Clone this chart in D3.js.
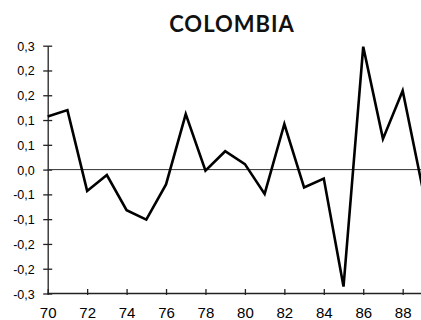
<!DOCTYPE html>
<html>
<head>
<meta charset="utf-8">
<script src="https://cdn.jsdelivr.net/npm/d3@7"></script>
<style>
  html, body { margin: 0; padding: 0; background: #fff; }
  svg { display: block; }
</style>
</head>
<body>
<svg id="chart" width="421" height="320"></svg>
<script>
// Annual series for Colombia, 1970–1989
const years = [70, 71, 72, 73, 74, 75, 76, 77, 78, 79, 80, 81, 82, 83, 84, 85, 86, 87, 88, 89];
const values = [0.107, 0.120, -0.043, -0.011, -0.082, -0.101, -0.030, 0.112, -0.002, 0.037,
                0.011, -0.049, 0.092, -0.036, -0.018, -0.236, 0.248, 0.062, 0.159, -0.036];
const yTicks = [0.25, 0.2, 0.15, 0.1, 0.05, 0, -0.05, -0.1, -0.15, -0.2, -0.25];
const xTicks = [70, 72, 74, 76, 78, 80, 82, 84, 86, 88];
const title = "COLOMBIA";

const svg = d3.select("#chart");

const x = d3.scaleLinear().domain([70, 89]).range([47.7, 422.4]);
const y = d3.scaleLinear().domain([-0.25, 0.25]).range([293.5, 45.7]);

// Labels shown with one decimal and a decimal comma
const fmt = v => {
  const r = Math.round(Math.abs(v) * 10 + 1e-9) / 10;
  return (v < 0 ? "-" : "") + r.toFixed(1).replace(".", ",");
};

// Title
svg.append("text")
  .attr("x", 232).attr("y", 32)
  .attr("text-anchor", "middle")
  .attr("font-family", "Lato, 'DejaVu Sans', sans-serif")
  .attr("font-weight", 700)
  .attr("font-size", 22)
  .attr("letter-spacing", 1)
  .attr("fill", "#111")
  .text(title);

// Y axis: ticks cross the line
const yAxis = d3.axisLeft(y).tickValues(yTicks).tickSizeOuter(0).tickFormat(fmt);
const gy = svg.append("g").attr("transform", `translate(${x.range()[0]},0)`).call(yAxis);
gy.attr("font-family", null).attr("font-size", null);
gy.select(".domain").attr("stroke", "#222").attr("stroke-width", 1.3);
gy.selectAll(".tick line").attr("x1", -4.5).attr("x2", 4.5).attr("stroke", "#222").attr("stroke-width", 1.3);
gy.selectAll(".tick text")
  .attr("x", -13)
  .attr("dy", "0.36em")
  .style("font-family", "'Liberation Sans', Arial, sans-serif")
  .style("font-size", "12.5px")
  .attr("fill", "#000");

// X axis along the bottom
const xAxis = d3.axisBottom(x).tickValues(xTicks).tickSizeOuter(0).tickFormat(d3.format("d"));
const gx = svg.append("g").attr("transform", `translate(0,${y(-0.25)})`).call(xAxis);
gx.attr("font-family", null).attr("font-size", null);
gx.select(".domain").attr("d", `M${x.range()[0]},0H421`).attr("stroke", "#222").attr("stroke-width", 1.3);
gx.selectAll(".tick line").attr("y1", -4.5).attr("y2", 1.5).attr("stroke", "#222").attr("stroke-width", 1.3);
gx.selectAll(".tick text")
  .attr("y", 0).attr("dy", 0)
  .attr("transform", "translate(0,24.5)")
  .style("font-family", "'Liberation Sans', Arial, sans-serif")
  .style("font-size", "15px")
  .attr("fill", "#000");

// Zero reference line
svg.append("line")
  .attr("x1", x.range()[0]).attr("x2", 421)
  .attr("y1", y(0)).attr("y2", y(0))
  .attr("stroke", "#333").attr("stroke-width", 1);

// Data line
const line = d3.line().x((d, i) => x(years[i])).y(d => y(d));
svg.append("path")
  .datum(values)
  .attr("d", line)
  .attr("fill", "none")
  .attr("stroke", "#000")
  .attr("stroke-width", 2.6)
  .attr("stroke-linejoin", "miter");
</script>
</body>
</html>
